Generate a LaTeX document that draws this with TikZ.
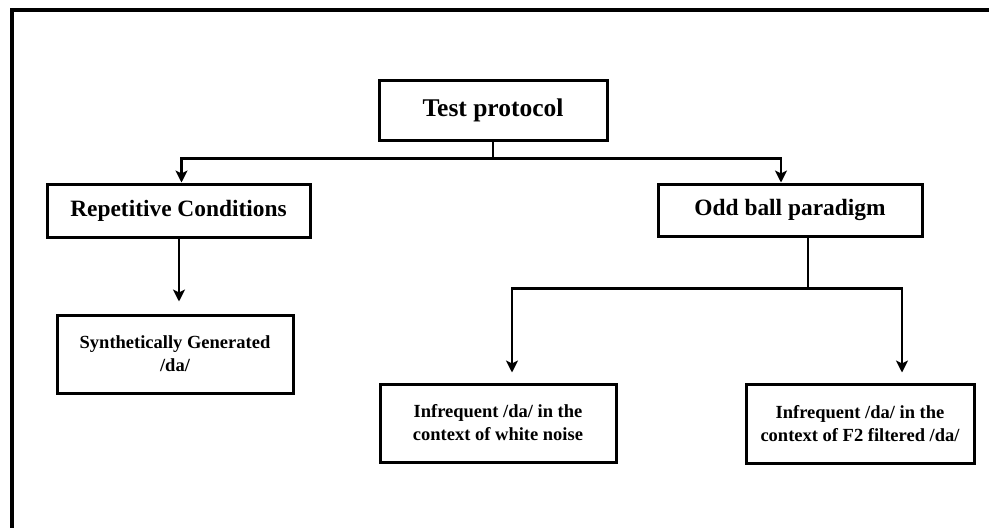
\documentclass[tikz,border=0pt]{standalone}
\usepackage{fontspec}
\setmainfont{Liberation Serif}
\usetikzlibrary{arrows.meta,calc}
\begin{document}
\begin{tikzpicture}[x=1pt,y=-1pt,
  box/.style={draw=black,line width=3pt,rectangle,inner sep=0pt,align=center,font=\bfseries},
  big/.style={font=\fontsize{23.4}{28}\selectfont\bfseries},
  small/.style={font=\fontsize{18.5}{23}\selectfont\bfseries},
  conn/.style={line width=2.4pt,draw=black},
  arr/.style={conn,-{Stealth[length=12pt,width=12pt,inset=3pt]}}]
\useasboundingbox (0,0) rectangle (989,528);
% frame (top and left edges only)
\coordinate (fl) at (12,528);
\coordinate (ft) at (12,10);
\coordinate (fr) at (989,10);
\draw[line width=3.5pt] (fl) -- (ft) -- (fr);
% nodes
\node[box,minimum width=228,minimum height=60,font=\fontsize{25.5}{30}\selectfont\bfseries] (tp) at (493,110) {Test protocol};
\node[box,big,minimum width=263,minimum height=53] (rep) at (178.5,210.5) {Repetitive Conditions};
\node[box,big,minimum width=264,minimum height=52] (odd) at (790,210) {Odd ball paradigm};
\node[box,small,minimum width=236,minimum height=78] (syn) at (175,354) {Synthetically Generated\\/da/};
\node[box,small,minimum width=236,minimum height=78] (wn) at (498,423) {Infrequent /da/ in the\\context of white noise};
\node[box,small,minimum width=228,minimum height=79] (f2) at (860,423.5) {Infrequent /da/ in the\\context of F2 filtered /da/};
% connectors
\coordinate (j1) at ($(tp.south)+(0,17)$);
\draw[conn] (tp.south) -- (j1);
\draw[arr] (j1) -| ([xshift=3pt]rep.north);
\draw[arr] (j1) -| ([xshift=-9pt]odd.north);
\draw[arr,shorten >=12pt] ([xshift=0.5pt]rep.south) -- ([xshift=0.5pt]rep.south |- syn.north);
\coordinate (j2) at ($(odd.south)+(18,51)$);
\draw[conn] ([xshift=18pt]odd.south) -- (j2);
\draw[arr,shorten >=10pt] (j2) -| ([xshift=14pt]wn.north);
\draw[arr,shorten >=10pt] (j2) -| ([xshift=42pt]f2.north);
\end{tikzpicture}
\end{document}
